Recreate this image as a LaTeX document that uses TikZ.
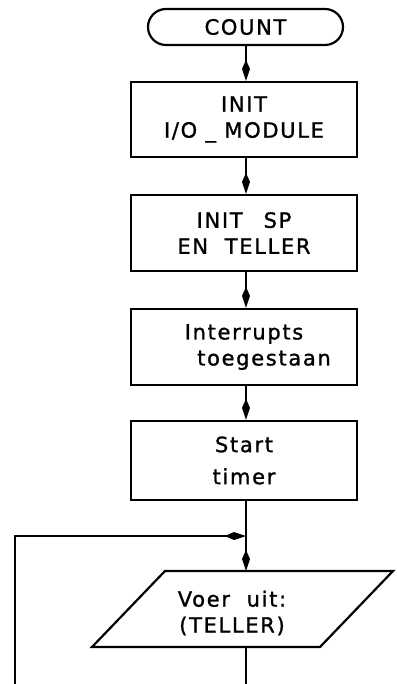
\documentclass[tikz,border=0pt]{standalone}
\usepackage{fontspec}
\setmainfont{DejaVu Sans}[LetterSpace=8, FakeBold=1.2]
\usetikzlibrary{arrows.meta}

\begin{document}
\begin{tikzpicture}[x=1pt,y=-1pt,
  line width=2.2pt,
  every node/.style={font=\fontsize{21}{26}\selectfont, align=center, inner sep=0pt},
  procbox/.style={draw, minimum width=226pt},
  termbox/.style={draw, rounded corners=18pt, minimum width=195pt, minimum height=36pt},
  flow/.style={-{Kite[length=21pt,width=8pt,inset=9pt]}},
]
\useasboundingbox (0,0) rectangle (396,684);

% start terminal
\node[termbox] (count) at (245.5,27) {COUNT};

% process steps
\node[procbox, minimum height=75pt] (init) at (244,119.5) {INIT\\I/O \_ MODULE};
\node[procbox, minimum height=76pt] (sp)   at (244,233)   {INIT\quad SP\\EN\ \ TELLER};
\node[procbox, minimum height=76pt] (irq)  at (244,347)   {Interrupts\\\hspace*{40pt}toegestaan};
\node[procbox, minimum height=79pt] (tmr)  at (244,460.5) {Start\\[6pt]timer};

% input/output step (parallelogram)
\coordinate (pBL) at (92,647);
\coordinate (pTL) at (165,571);
\coordinate (pTR) at (393,571);
\coordinate (pBR) at (320,647);
\draw (pBL) -- (pTL) -- (pTR) -- (pBR) -- cycle;
\node (exec) at (232,613) {Voer\ \ uit:\\(TELLER)};
\coordinate (ptop) at (246,571);
\coordinate (pbot) at (246,647);

% loop-back points
\coordinate (join)  at (246,536);
\coordinate (loopL) at (15,684);
\coordinate (down)  at (246,684);

% connectors
\draw[flow] (count.south -| 246,0) -- (init.north -| 246,0);
\draw[flow] (init.south -| 246,0) -- (sp.north -| 246,0);
\draw[flow] (sp.south -| 246,0) -- (irq.north -| 246,0);
\draw[flow] (irq.south -| 246,0) -- (tmr.north -| 246,0);
\draw[flow] (tmr.south -| 246,0) -- (ptop);
\draw[flow] (loopL) |- (join);
\draw (pbot) -- (down);
\end{tikzpicture}
\end{document}
